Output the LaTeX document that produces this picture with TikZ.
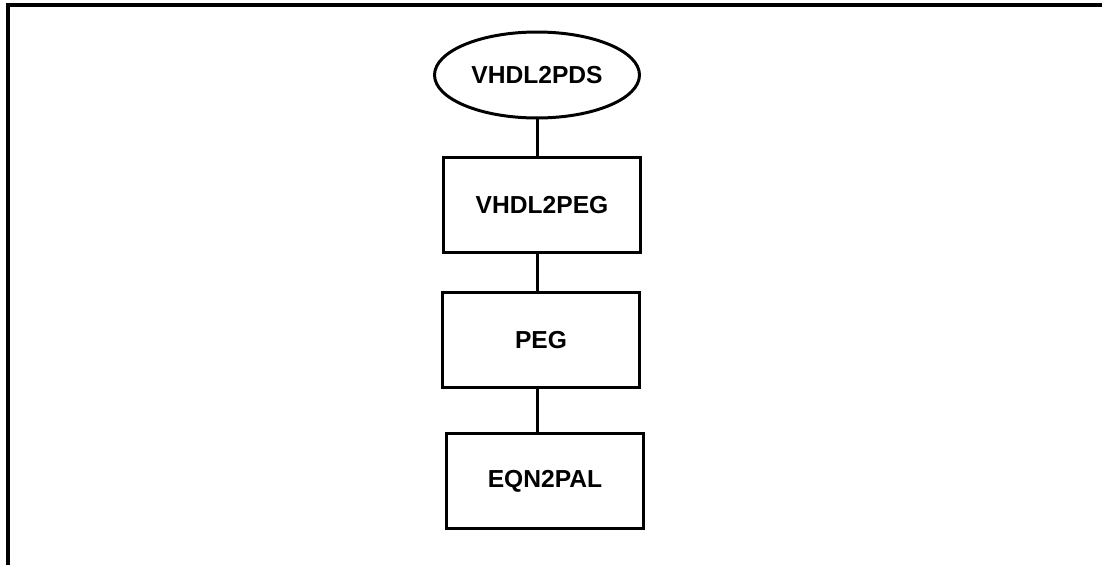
\documentclass[tikz,border=0pt]{standalone}
\usepackage{fontspec}
\usepackage{tikz}
\usetikzlibrary{shapes, positioning}
\newfontfamily\chartfont{Liberation Sans}
\tikzstyle{stage} = [rectangle, draw, line width=1.7pt, minimum width=3.94cm, minimum height=1.9cm, font=\chartfont\bfseries\fontsize{14}{16}\selectfont]
\tikzstyle{start} = [ellipse, draw, line width=1.7pt, minimum width=4.1cm, minimum height=1.72cm, inner sep=0pt, font=\chartfont\bfseries\fontsize{14}{16}\selectfont]
\tikzstyle{link} = [line width=1.7pt]

\begin{document}
\begin{tikzpicture}[x=0.02cm, y=-0.02cm]
        \useasboundingbox (0,0) rectangle (1102,565);
        % Frame: top and left edges only
        \coordinate (frame_tl) at (8,5);
        \coordinate (frame_tr) at (1102,5);
        \coordinate (frame_bl) at (8,565);
        \draw[line width=2pt] (frame_tr) -- (frame_tl) -- (frame_bl);

        % Tool chain
        \node[start] (vhdl2pds) at (537, 75) {VHDL2PDS};
        \node[stage] (vhdl2peg) at (542, 205) {VHDL2PEG};
        \node[stage] (peg) at (541, 340) {PEG};
        \node[stage] (eqn2pal) at (545, 481) {EQN2PAL};

        \draw[link] (vhdl2pds.south) -- (vhdl2pds.south |- vhdl2peg.north);
        \draw[link] (vhdl2pds.south |- vhdl2peg.south) -- (vhdl2pds.south |- peg.north);
        \draw[link] (vhdl2pds.south |- peg.south) -- (vhdl2pds.south |- eqn2pal.north);
    \end{tikzpicture}
\end{document}
